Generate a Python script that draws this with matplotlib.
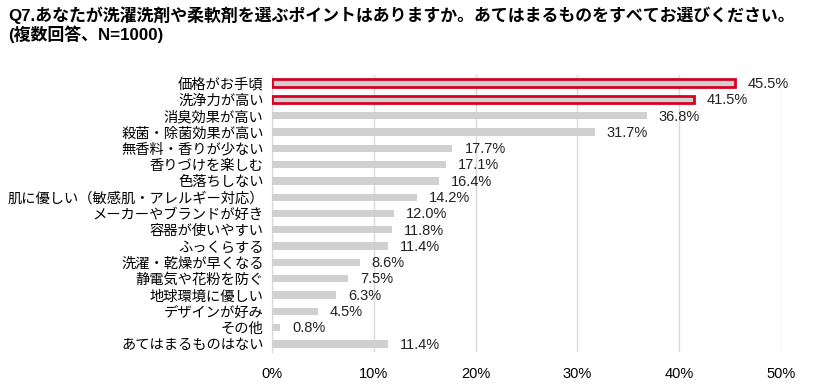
import matplotlib
matplotlib.use("Agg")
import matplotlib.pyplot as plt
import numpy as np

plt.rcParams['font.family'] = ['Liberation Sans', 'Noto Sans CJK JP', 'DejaVu Sans']

categories = ["価格がお手頃", "洗浄力が高い", "消臭効果が高い", "殺菌・除菌効果が高い",
              "無香料・香りが少ない", "香りづけを楽しむ", "色落ちしない",
              "肌に優しい（敏感肌・アレルギー対応）", "メーカーやブランドが好き",
              "容器が使いやすい", "ふっくらする", "洗濯・乾燥が早くなる",
              "静電気や花粉を防ぐ", "地球環境に優しい", "デザインが好み", "その他",
              "あてはまるものはない"]
values = [45.5, 41.5, 36.8, 31.7, 17.7, 17.1, 16.4, 14.2, 12.0, 11.8, 11.4, 8.6,
          7.5, 6.3, 4.5, 0.8, 11.4]
highlight = [True, True] + [False] * 15
xticks = [0, 10, 20, 30, 40, 50]

fig = plt.figure(figsize=(8.18, 3.88), dpi=100)
ax = fig.add_axes([0.3325, 0.0928, 0.6223, 0.7139])

y = np.arange(len(categories))
for i, (v, h) in enumerate(zip(values, highlight)):
    if h:
        ax.barh(i, v, height=0.45, color='#d0d0d0', edgecolor='#d8001e', linewidth=2, zorder=3)
    else:
        ax.barh(i, v, height=0.45, color='#d0d0d0', edgecolor='none', zorder=3)
    ax.text(v + 1.2, i + 0.05, f"{v:.1f}%", va='center', ha='left', fontsize=10.5, color='#222222')

ax.set_xlim(0, 50)
ax.set_ylim(len(categories) - 0.5, -0.5)
ax.set_yticks(y)
ax.set_yticklabels(categories, fontsize=10.3)
ax.set_xticks(xticks)
ax.set_xticklabels([f"{t}%" for t in xticks], fontsize=10.5)
ax.tick_params(axis='both', length=0)
ax.tick_params(axis='x', pad=11)
ax.tick_params(axis='y', pad=6)
ax.grid(axis='x', color='#d9d9d9', linewidth=1, zorder=0)
for s in ['top', 'right', 'bottom']:
    ax.spines[s].set_visible(False)
ax.spines['left'].set_color('#d9d9d9')

fig.text(0.01, 0.962, "Q7.あなたが洗濯洗剤や柔軟剤を選ぶポイントはありますか。あてはまるものをすべてお選びください。",
         fontsize=12.2, fontweight='bold', va='center', ha='left')
fig.text(0.01, 0.912, "(複数回答、N=1000)", fontsize=12.2, fontweight='bold', va='center', ha='left')

fig.savefig("out.png", dpi=100)
